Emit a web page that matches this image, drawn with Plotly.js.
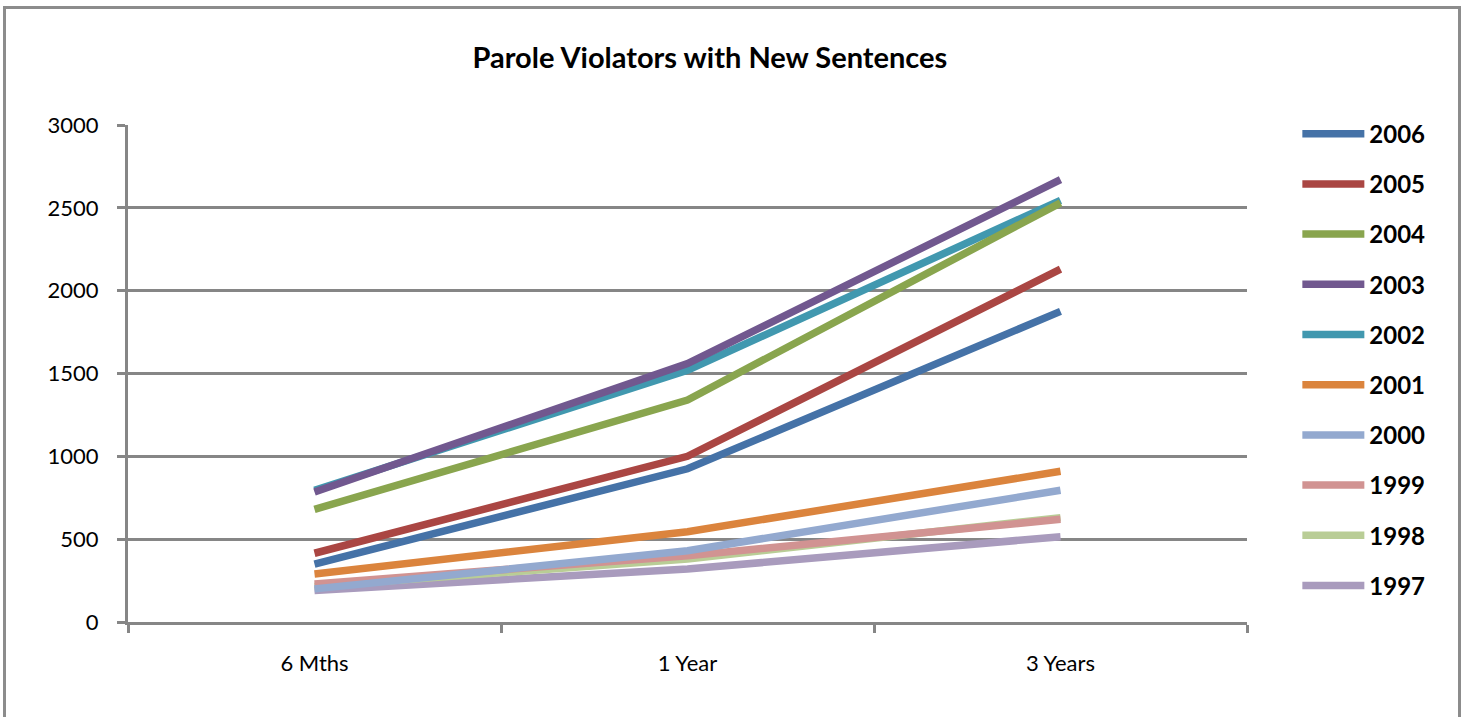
<!DOCTYPE html>
<html><head><meta charset="utf-8">
<script src="https://cdn.plot.ly/plotly-3.0.1.min.js"></script>
<style>
body{margin:0;padding:0;background:#fff;}
#chart{position:absolute;left:0;top:0;width:1465px;height:717px;}
#frame{position:absolute;left:3px;top:6px;width:1452px;height:720px;border:3px solid #8c8c8c;pointer-events:none;}
</style></head>
<body>
<div id="chart"></div>
<div id="frame"></div>
<script>
const categories = ["6 Mths", "1 Year", "3 Years"];
const seriesNames = ["2006", "2005", "2004", "2003", "2002", "2001", "2000", "1999", "1998", "1997"];
const v2006 = [350, 925, 1875];
const v2005 = [415, 1000, 2130];
const v2004 = [680, 1340, 2530];
const v2003 = [785, 1560, 2670];
const v2002 = [795, 1520, 2545];
const v2001 = [290, 545, 910];
const v2000 = [200, 430, 795];
const v1999 = [230, 400, 620];
const v1998 = [215, 380, 630];
const v1997 = [190, 320, 515];
const seriesValues = [v2006, v2005, v2004, v2003, v2002, v2001, v2000, v1999, v1998, v1997];
const colors = ["#4572a7", "#aa4643", "#89a54e", "#71588f", "#4198af", "#db843d", "#93a9cf", "#d19392", "#b9cd96", "#a99bbd"];

// draw order: older series underneath
const traces = [];
for (let i = seriesNames.length - 1; i >= 0; i--) {
  traces.push({
    type: "scatter", mode: "lines",
    x: categories, y: seriesValues[i], name: seriesNames[i],
    legendrank: i + 1, legendgroup: "g" + i,
    line: {color: colors[i], width: 7.5},
    hoverinfo: "x+y+name"
  });
}

const layout = {
  width: 1465, height: 717,
  paper_bgcolor: "#fff", plot_bgcolor: "#fff",
  margin: {l: 128, r: 218, t: 125, b: 95},
  font: {family: "Lato, 'Liberation Sans', sans-serif", color: "#000", size: 22},
  title: {text: "<b>Parole Violators with New Sentences</b>", x: 0.52, xref: "paper", xanchor: "center",
          y: 0.92, yref: "container", yanchor: "middle", font: {size: 29}},
  xaxis: {type: "category", range: [-0.5, 2.5], tickson: "boundaries", ticks: "outside", ticklen: 8,
          tickwidth: 3, tickcolor: "#868686", showline: true, linecolor: "#868686", linewidth: 3,
          showgrid: false, zeroline: false, ticklabelstandoff: 20, tickfont: {size: 22}},
  yaxis: {range: [0, 3000], dtick: 500, ticks: "outside", ticklen: 8, tickwidth: 3, tickcolor: "#868686",
          showline: true, linecolor: "#868686", linewidth: 3, showgrid: true, gridcolor: "#868686",
          gridwidth: 3, zeroline: false, ticklabelstandoff: 14, tickfont: {size: 22}},
  legend: {x: 1.045, xanchor: "left", y: 1.027, yanchor: "top", traceorder: "grouped",
           tracegroupgap: 16, itemwidth: 62, maxheight: 1, font: {size: 24, weight: "bold"}, bgcolor: "rgba(0,0,0,0)"},
  showlegend: true
};
Plotly.newPlot("chart", traces, layout, {displayModeBar: false, staticPlot: false});
</script>
</body></html>
